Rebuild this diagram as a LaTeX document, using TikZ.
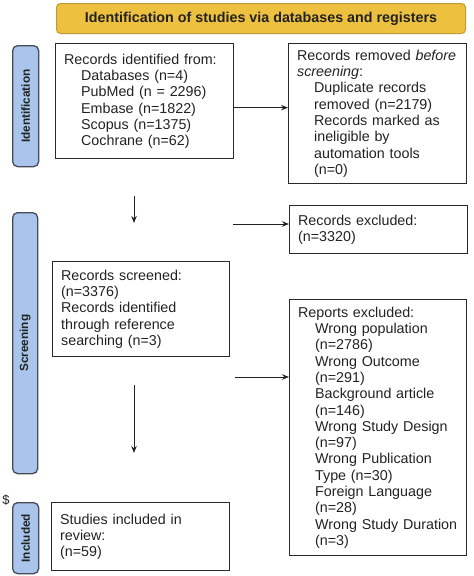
\documentclass[tikz,border=0pt]{standalone}
\usepackage{fontspec}
\setmainfont{Liberation Sans}
\usetikzlibrary{arrows.meta,calc}
\definecolor{bannerfill}{HTML}{EDC040}
\definecolor{bannerline}{HTML}{C29A35}
\definecolor{barfill}{HTML}{A9C5EB}
\definecolor{barline}{HTML}{464B57}
\definecolor{boxline}{HTML}{2A2A2A}
\definecolor{txt}{HTML}{222222}
\newcommand{\ind}{\hspace*{17pt}}
\begin{document}
\begin{tikzpicture}[x=1pt,y=-1pt,
  box/.style={draw=boxline, line width=1.3pt, anchor=north west, inner xsep=8.5pt, inner ysep=0pt, align=left, text=txt, font=\fontsize{14.3}{16.3}\selectfont},
  bar/.style={draw=barline, fill=barfill, rounded corners=5pt, line width=1.3pt, anchor=north west, inner sep=0pt},
  barlabel/.style={rotate=90, text=txt, font=\bfseries\fontsize{11.8}{13}\selectfont},
  arr/.style={draw=txt, line width=1pt, -{Stealth[length=7pt,width=5.5pt]}}
]
\useasboundingbox (0,0) rectangle (474,576);

% banner
\node[draw=bannerline, fill=bannerfill, line width=1pt, rounded corners=4pt, anchor=north west,
      minimum width=409pt, minimum height=30pt, inner sep=0pt, text=txt,
      font=\bfseries\fontsize{14.3}{16}\selectfont] (banner) at (56,3)
      {Identification of studies via databases and registers};

% side bars
\node[bar, minimum width=26pt, minimum height=121pt] (idbar) at (12,45) {};
\node[barlabel] (idlab) at (idbar.center) {Identification};
\node[bar, minimum width=25pt, minimum height=261pt] (scbar) at (12,212) {};
\node[barlabel] (sclab) at (scbar.center) {Screening};
\node[bar, minimum width=26pt, minimum height=71pt] (inbar) at (12,502) {};
\node[barlabel] (inlab) at (inbar.center) {Included};

\node[text=txt, font=\fontsize{13}{14}\selectfont, inner sep=0pt] (dollar) at (6,500) {\$};

% boxes
\node[box, minimum width=178pt, minimum height=115pt, text width=161pt] (idn) at (55,43)
  {Records identified from:\\
   \ind Databases (n=4)\\
   \ind PubMed (n = 2296)\\
   \ind Embase (n=1822)\\
   \ind Scopus (n=1375)\\
   \ind Cochrane (n=62)};

\node[box, minimum width=178pt, minimum height=140pt, text width=161pt] (rem) at (288,43)
  {Records removed \textit{before}\\
   \textit{screening}:\\
   \ind Duplicate records\\
   \ind removed (n=2179)\\
   \ind Records marked as\\
   \ind ineligible by\\
   \ind automation tools\\
   \ind (n=0)};

\node[box, minimum width=178pt, minimum height=48pt, text width=161pt] (excl) at (289,205)
  {Records excluded:\\
   (n=3320)};

\node[box, minimum width=177pt, minimum height=95pt, text width=160pt] (scr) at (52,261)
  {Records screened:\\
   (n=3376)\\
   Records identified\\
   through reference\\
   searching (n=3)};

\node[box, minimum width=177pt, minimum height=256pt, text width=160pt] (rep) at (289,299)
  {Reports excluded:\\
   \ind Wrong population\\
   \ind (n=2786)\\
   \ind Wrong Outcome\\
   \ind (n=291)\\
   \ind Background article\\
   \ind (n=146)\\
   \ind Wrong Study Design\\
   \ind (n=97)\\
   \ind Wrong Publication\\
   \ind Type (n=30)\\
   \ind Foreign Language\\
   \ind (n=28)\\
   \ind Wrong Study Duration\\
   \ind (n=3)};

\node[box, minimum width=178pt, minimum height=68pt, text width=161pt] (inc) at (51,502)
  {Studies included in\\
   review:\\
   (n=59)};

% connectors
\draw[arr] ([yshift=-6.5pt]idn.east) -- ([yshift=-6.5pt]idn.east -| rem.west);

\coordinate (d1s) at (134,196);
\coordinate (d1e) at (134,223);
\draw[arr] (d1s) -- (d1e);

\coordinate (e1s) at (233,224);
\draw[arr] (e1s) -- (e1s -| excl.west);

\coordinate (r1s) at (235,377);
\draw[arr] (r1s) -- (r1s -| rep.west);

\coordinate (d2s) at (134,385);
\coordinate (d2e) at (134,453);
\draw[arr] (d2s) -- (d2e);
\end{tikzpicture}
\end{document}
